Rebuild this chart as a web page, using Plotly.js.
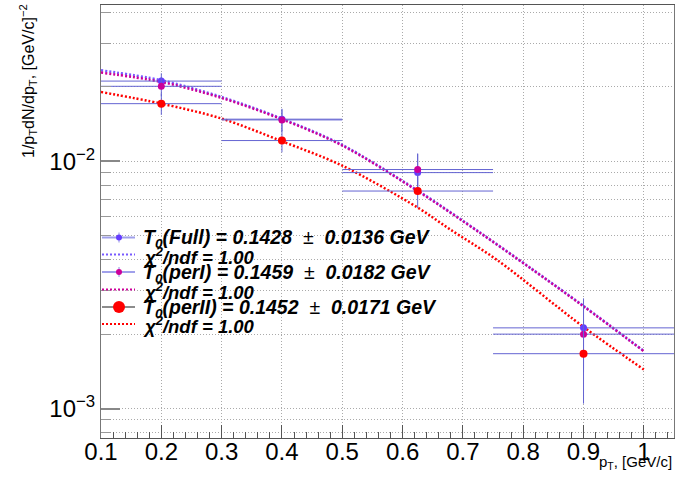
<!DOCTYPE html>
<html>
<head>
<meta charset="utf-8">
<script src="https://cdn.plot.ly/plotly-3.0.1.min.js"></script>
<style>html,body{margin:0;padding:0;background:#fff;}#chart{width:677px;height:477px;}</style>
</head>
<body>
<div id="chart"></div>
<script>
// ---- data ----
const xCenters   = [0.2, 0.4, 0.625, 0.9];
const xHalfWidth = [0.1, 0.1, 0.125, 0.15];

const fullY   = [0.0211, 0.0148, 0.0090, 0.00212];
const fullErr = [0.0016, 0.0015, 0.0017, 0.00067];
const perIY   = [0.0201, 0.0147, 0.00926, 0.00200];
const perIErr = [0.0018, 0.0015, 0.0015, 0.0006];
const perIIY  = [0.0171, 0.01213, 0.00758, 0.001667];
const perIIErr= [0.0017, 0.00126, 0.0011, 0.00062];

const fitFullX  = [0.1, 0.2, 0.3, 0.4, 0.5, 0.625, 0.731, 0.811, 0.9, 1.0];
const fitFullY  = [0.02333, 0.02126, 0.01820, 0.01488, 0.01165, 0.00762, 0.00510, 0.00372, 0.00260, 0.00171];
const fitPerIX  = [0.1, 0.2, 0.3, 0.4, 0.5, 0.625, 0.731, 0.811, 0.9, 1.0];
const fitPerIY  = [0.02284, 0.02093, 0.01803, 0.01478, 0.01158, 0.00758, 0.00508, 0.00371, 0.00259, 0.001705];
const fitPerIIX = [0.1, 0.2, 0.3, 0.4, 0.5, 0.625, 0.679, 0.756, 0.9, 1.0];
const fitPerIIY = [0.01906, 0.01711, 0.01488, 0.01205, 0.00960, 0.0065, 0.00530, 0.00400, 0.002138, 0.001438];

const yMajorTicks = [0.001, 0.01];
const yMajorLabels = ['10<sup>\u22123</sup>', '10<sup>\u22122</sup>'];
const yMinorTicks = [0.0008, 0.0009, 0.002, 0.003, 0.004, 0.005, 0.006, 0.007, 0.008, 0.009, 0.02, 0.03, 0.04];

const NB = '\u00a0';
const legendLabels = [
  '<b><i>T<sub>0</sub>(Full) = 0.1428 ' + NB + '</i></b>\u00b1<b><i>' + NB + ' 0.0136 GeV</i></b>',
  '<b><i>\u03c7<sup>2</sup>/ndf = 1.00</i></b>',
  '<b><i>T<sub>0</sub>(perI) = 0.1459 ' + NB + '</i></b>\u00b1<b><i>' + NB + ' 0.0182 GeV</i></b>',
  '<b><i>\u03c7<sup>2</sup>/ndf = 1.00</i></b>',
  '<b><i>T<sub>0</sub>(perII) = 0.1452 ' + NB + '</i></b>\u00b1<b><i>' + NB + ' 0.0171 GeV</i></b>',
  '<b><i>\u03c7<sup>2</sup>/ndf = 1.00</i></b>'
];

// ---- styles ----
const cFull = 'rgb(102,60,255)';
const cFullFit = 'rgb(120,90,255)';
const cPerI = 'rgb(204,0,153)';
const cPerII = 'rgb(255,0,0)';
const cErr = 'rgb(100,100,210)';
const FONT = 'Liberation Sans, Arial, sans-serif';

const W = 677, Hh = 477;
const M = {l: 101, r: 3, t: 5, b: 39};
const PW = W - M.l - M.r, PH = Hh - M.t - M.b;
const px = x => (x - M.l) / PW;
const py = y => 1 - (y - M.t) / PH;

function errTrace(y, err, color, size, name) {
  return {
    x: xCenters, y: y, type: 'scatter', mode: 'markers', name: name, showlegend: false,
    marker: {color: color, size: size, symbol: 'circle'},
    error_x: {type: 'data', array: xHalfWidth, visible: true, color: cErr, thickness: 1, width: 0},
    error_y: {type: 'data', array: err, visible: true, color: cErr, thickness: 1, width: 0}
  };
}
function fitTrace(x, y, color, name) {
  return {x: x, y: y, type: 'scatter', mode: 'lines', name: name, showlegend: false,
    line: {color: color, width: 2.5, dash: '2px,2px', shape: 'spline', smoothing: 0.9}};
}

const data = [
  fitTrace(fitFullX, fitFullY, cFullFit, 'fit Full'),
  fitTrace(fitPerIX, fitPerIY, cPerI, 'fit perI'),
  fitTrace(fitPerIIX, fitPerIIY, cPerII, 'fit perII'),
  errTrace(fullY, fullErr, cFull, 7, 'Full'),
  errTrace(perIY, perIErr, cPerI, 7, 'perI'),
  errTrace(perIIY, perIIErr, cPerII, 8, 'perII')
];

// legend (drawn as shapes + annotations to match ROOT's compact layout)
const rowsY = [237.5, 254.5, 272, 289.5, 307, 324];
const shapes = [
  {type: 'rect', xref: 'paper', yref: 'paper', x0: px(101), x1: px(283), y0: py(336), y1: py(225),
   fillcolor: '#fff', line: {width: 0}, layer: 'between'}
];
function hline(y, color, width, dash) {
  shapes.push({type: 'line', xref: 'paper', yref: 'paper', x0: px(102), x1: px(135), y0: py(y), y1: py(y),
    line: {color: color, width: width, dash: dash || 'solid'}});
}
function vline(y, color) {
  shapes.push({type: 'line', xref: 'paper', yref: 'paper', x0: px(119), x1: px(119), y0: py(y - 5), y1: py(y + 5),
    line: {color: color, width: 1}});
}
function dot(y, color, d) {
  shapes.push({type: 'circle', xref: 'paper', yref: 'paper', xsizemode: 'pixel', ysizemode: 'pixel',
    xanchor: px(119), yanchor: py(y), x0: -d / 2, x1: d / 2, y0: -d / 2, y1: d / 2,
    fillcolor: color, line: {width: 0}});
}
hline(rowsY[0], 'rgb(160,160,235)', 2); vline(rowsY[0], 'rgb(140,140,230)'); dot(rowsY[0], cFull, 6);
hline(rowsY[1], cFullFit, 2, '2px,2px');
hline(rowsY[2], 'rgb(160,160,235)', 2); vline(rowsY[2], 'rgb(140,140,230)'); dot(rowsY[2], cPerI, 6);
hline(rowsY[3], cPerI, 2, '2px,2px');
hline(rowsY[4], 'rgb(140,140,140)', 2); dot(rowsY[4], cPerII, 12);
hline(rowsY[5], cPerII, 2, '2px,2px');

const annotations = legendLabels.map((t, i) => ({
  text: t, xref: 'paper', yref: 'paper', x: px(141), y: py(rowsY[i] + 1), xanchor: 'left', yanchor: 'middle',
  showarrow: false, font: {family: FONT, size: (i % 2 === 0) ? 19.5 : 18.5, color: '#000'}
}));
annotations.push({
  text: '1/p<sub>T</sub>dN/dp<sub>T</sub>, [GeV/c]<sup>\u22122</sup>', textangle: -90,
  xref: 'paper', yref: 'paper', x: px(28), y: py(2), xanchor: 'center', yanchor: 'top',
  showarrow: false, font: {family: FONT, size: 16, color: '#000'}
});
annotations.push({
  text: 'p<sub>T</sub>, [GeV/c]', xref: 'paper', yref: 'paper', x: px(674), y: py(462),
  xanchor: 'right', yanchor: 'middle', showarrow: false, font: {family: FONT, size: 15, color: '#000'}
});

const grid = {showgrid: true, gridcolor: 'rgb(170,170,170)', griddash: '1px,2px', gridwidth: 1};

const layout = {
  width: W, height: Hh, margin: M, paper_bgcolor: '#fff', plot_bgcolor: '#fff', showlegend: false,
  font: {family: FONT, color: '#000'},
  xaxis: Object.assign({
    type: 'linear', range: [0.1, 1.05], tick0: 0.1, dtick: 0.1, ticks: 'inside', ticklen: 13,
    tickcolor: '#555', tickwidth: 1, showline: true, linecolor: '#555', linewidth: 1, mirror: true,
    zeroline: false, tickfont: {family: FONT, size: 24, color: '#000'}, ticklabelstandoff: -8,
    minor: {dtick: 0.02, tick0: 0.1, ticks: 'inside', ticklen: 6, tickcolor: '#555', tickwidth: 1, showgrid: false}
  }, grid),
  yaxis: Object.assign({
    type: 'log', range: [-3.119, -1.368], tickmode: 'array', tickvals: yMajorTicks, ticktext: yMajorLabels,
    ticks: 'inside', ticklen: 19, tickcolor: '#888', tickwidth: 2, showline: true, linecolor: '#777', linewidth: 1,
    mirror: true, zeroline: false, tickfont: {family: FONT, size: 24, color: '#000'},
    minor: Object.assign({tickmode: 'array', tickvals: yMinorTicks, ticks: 'inside', ticklen: 10, tickcolor: '#999', tickwidth: 1}, grid)
  }, grid),
  shapes: shapes,
  annotations: annotations
};

Plotly.newPlot('chart', data, layout, {staticPlot: true, displayModeBar: false});
</script>
</body>
</html>
